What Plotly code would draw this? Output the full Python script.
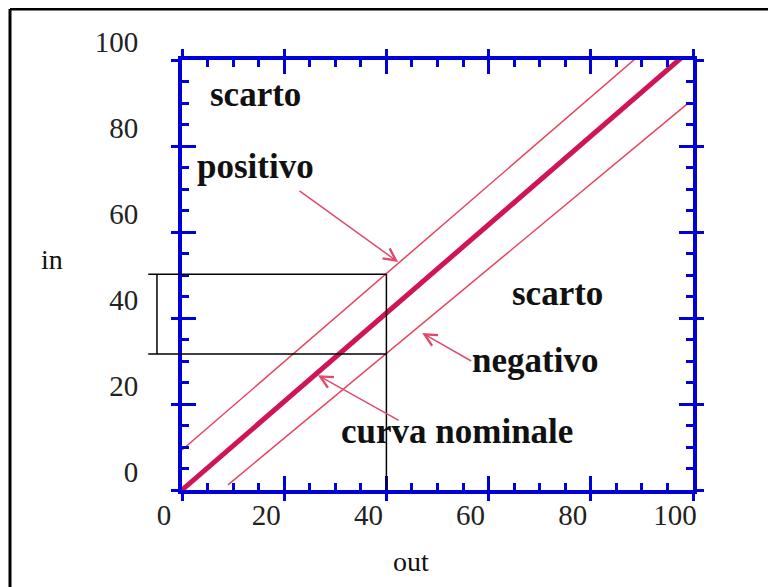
import plotly.graph_objects as go

# ---- data ----
tick_vals = [0, 20, 40, 60, 80, 100]
tick_text = ["0", "20", "40", "60", "80", "100"]
axis_range = [0, 100]

nominal_out = [0, 97.8]
nominal_in = [0, 100.6]

positive_out = [0, 89.0]
positive_in = [9.3, 100.6]

negative_out = [9.0, 99.3]
negative_in = [1.2, 90.2]

start_dot_out = [10]
start_dot_in = [-0.7]

band_out = 40
band_in = [31.6, 50.2]
bracket_out = -4.9
bracket_ext_out = -6.6

# text labels: (text, out, in)
labels = [
    ("scarto", 14.3, 91.9),
    ("positivo", 14.3, 75.3),
    ("scarto", 73.4, 45.8),
    ("negativo", 69.1, 30.2),
    ("curva nominale", 53.8, 13.7),
]
# arrows: (head_out, head_in, tail_out, tail_in)
arrows = [
    (42.3, 53.0, 22.7, 69.8),
    (47.0, 36.5, 56.9, 29.8),
    (26.6, 26.7, 42.7, 16.0),
]

BLUE = "#0000d8"
THICK = "#cf1458"
THIN = "#e8435f"
ARROW = "#e04a6c"
SERIF = "Liberation Serif, Times New Roman, serif"


def out_to_paper(v):
    return (v - axis_range[0]) / (axis_range[1] - axis_range[0])


fig = go.Figure()

fig.add_trace(go.Scatter(x=positive_out, y=positive_in, mode="lines",
                         line=dict(color=THIN, width=1.5), showlegend=False, hoverinfo="skip"))
fig.add_trace(go.Scatter(x=negative_out, y=negative_in, mode="lines",
                         line=dict(color=THIN, width=1.5), showlegend=False, hoverinfo="skip"))
fig.add_trace(go.Scatter(x=nominal_out, y=nominal_in, mode="lines",
                         line=dict(color=THICK, width=5), showlegend=False, hoverinfo="skip"))
fig.add_trace(go.Scatter(x=start_dot_out, y=start_dot_in, mode="markers", cliponaxis=False,
                         marker=dict(color=THICK, size=5), showlegend=False, hoverinfo="skip"))
# empty trace to activate the overlay axes (crossing ticks)
fig.add_trace(go.Scatter(x=[], y=[], xaxis="x2", yaxis="y2", showlegend=False))

blk = dict(color="black", width=1.5)
shapes = [
    dict(type="line", xref="x", yref="y", x0=band_out, x1=band_out, y0=0, y1=band_in[1], line=blk),
    dict(type="line", xref="paper", yref="y", x0=out_to_paper(bracket_out), x1=out_to_paper(bracket_out),
         y0=band_in[0], y1=band_in[1], line=blk),
    dict(type="line", xref="paper", yref="y", x0=out_to_paper(bracket_ext_out), x1=out_to_paper(band_out),
         y0=band_in[1], y1=band_in[1], line=blk),
    dict(type="line", xref="paper", yref="y", x0=out_to_paper(bracket_ext_out), x1=out_to_paper(band_out),
         y0=band_in[0], y1=band_in[0], line=blk),
    # frame (left and top)
    dict(type="line", xref="paper", yref="paper", x0=-0.3366, x1=-0.3366, y0=1.1186, y1=-0.35,
         line=dict(color="black", width=3)),
    dict(type="line", xref="paper", yref="paper", x0=-0.3366, x1=1.25, y0=1.1186, y1=1.1186,
         line=dict(color="black", width=3)),
]

annotations = []
for txt, xo, yi in labels:
    annotations.append(dict(x=xo, y=yi, xref="x", yref="y", text="<b>" + txt + "</b>", showarrow=False,
                            font=dict(family=SERIF, size=35, color="#111"),
                            xanchor="center", yanchor="middle"))
for hx, hy, tx, ty in arrows:
    annotations.append(dict(x=hx, y=hy, ax=tx, ay=ty, xref="x", yref="y", axref="x", ayref="y",
                            text="", showarrow=True, arrowhead=5, arrowsize=1.6, arrowwidth=1.5,
                            arrowcolor=ARROW, standoff=0))
annotations.append(dict(x=-0.254, y=0.537, xref="paper", yref="paper", text="in", showarrow=False,
                        xanchor="center", yanchor="middle",
                        font=dict(family=SERIF, size=28, color="#111")))
annotations.append(dict(x=0.448, y=-0.167, xref="paper", yref="paper", text="out", showarrow=False,
                        xanchor="center", yanchor="middle",
                        font=dict(family=SERIF, size=28, color="#111")))

common_major = dict(showgrid=False, zeroline=False, tickvals=tick_vals, ticktext=tick_text)

fig.update_layout(
    width=768, height=579,
    margin=dict(l=174, r=83, t=52, b=97),
    paper_bgcolor="white", plot_bgcolor="white",
    shapes=shapes, annotations=annotations,
    xaxis=dict(range=axis_range, **common_major,
               showline=True, linecolor=BLUE, linewidth=4, mirror="ticks",
               ticks="inside", ticklen=14, tickwidth=3, tickcolor=BLUE,
               minor=dict(dtick=5, ticks="inside", ticklen=7, tickwidth=3, tickcolor=BLUE),
               tickfont=dict(family=SERIF, size=29, color="#222"),
               ticklabelshift=-18, ticklabelstandoff=-4),
    yaxis=dict(range=axis_range, **common_major,
               showline=True, linecolor=BLUE, linewidth=4, mirror="ticks",
               ticks="inside", ticklen=14, tickwidth=3, tickcolor=BLUE,
               minor=dict(dtick=5, ticks="inside", ticklen=7, tickwidth=3, tickcolor=BLUE),
               tickfont=dict(family=SERIF, size=29, color="#222"),
               ticklabelshift=-18, ticklabelstandoff=34),
    xaxis2=dict(range=axis_range, overlaying="x", anchor="y2", **common_major,
                showline=False, mirror="ticks", ticks="outside", ticklen=10, tickwidth=3,
                tickcolor=BLUE, showticklabels=False),
    yaxis2=dict(range=axis_range, overlaying="y", anchor="x2", **common_major,
                showline=False, mirror="ticks", ticks="outside", ticklen=10, tickwidth=3,
                tickcolor=BLUE, showticklabels=False),
)

fig.write_html("out.html")
